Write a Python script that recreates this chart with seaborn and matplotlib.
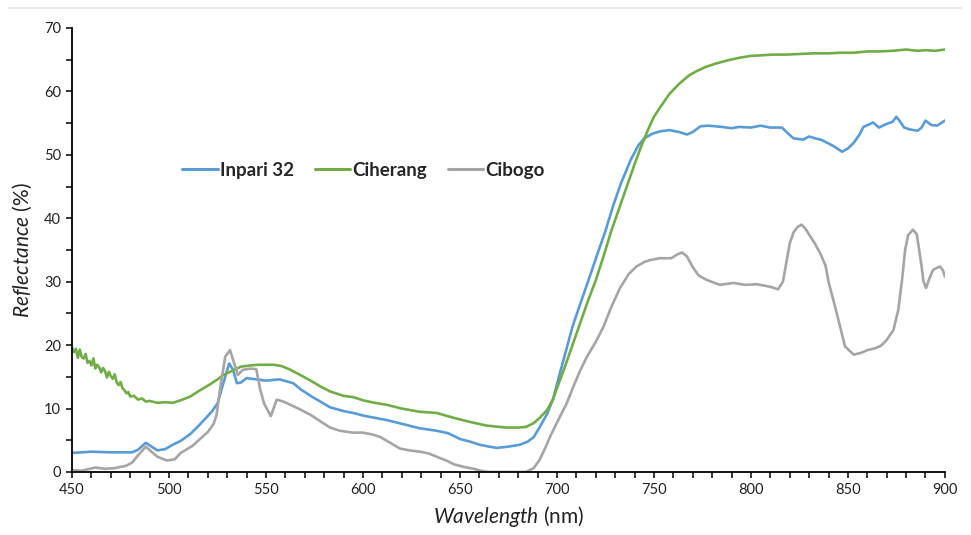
import numpy as np
import pandas as pd
import matplotlib
matplotlib.use("Agg")
import matplotlib.pyplot as plt
from matplotlib.lines import Line2D
from matplotlib.ticker import MultipleLocator
import seaborn as sns

# Inpari 32 spectrum
inpari_wl = [450, 460, 470, 481, 484, 488, 491, 494, 498, 502, 506, 511, 515, 519, 522, 525, 528, 531,
             533, 535, 537, 540, 545, 550, 557, 564, 568, 573, 578, 583, 590, 595, 600, 605, 612, 620,
             629, 638, 644, 650, 655, 660, 665, 669, 675, 681, 685, 688, 691, 695, 698, 701, 705, 708,
             712, 716, 720, 725, 729, 733, 738, 742, 745, 749, 753, 758, 763, 767, 770, 774, 778, 785,
             790, 794, 800, 805, 810, 816, 819, 822, 827, 830, 833, 836, 840, 843, 847, 850, 853, 856,
             858, 861, 863, 866, 868, 871, 873, 875, 877, 879, 882, 886, 888, 890, 893, 896, 900]
inpari_ref = [3.0, 3.2, 3.1, 3.1, 3.5, 4.6, 4.0, 3.4, 3.6, 4.3, 4.9, 6.0, 7.2, 8.5, 9.5, 10.8, 14.0, 17.1,
              16.1, 14.0, 14.1, 14.8, 14.6, 14.4, 14.6, 14.0, 13.0, 12.0, 11.1, 10.2, 9.6, 9.3, 8.9, 8.6,
              8.2, 7.6, 6.9, 6.5, 6.1, 5.2, 4.8, 4.3, 4.0, 3.8, 4.0, 4.3, 4.8, 5.5, 7.0, 9.2, 11.5, 15.0,
              19.5, 22.9, 26.5, 30.0, 33.6, 38.0, 42.0, 45.5, 49.2, 51.5, 52.6, 53.3, 53.7, 53.9, 53.6,
              53.2, 53.6, 54.5, 54.6, 54.4, 54.2, 54.4, 54.3, 54.6, 54.3, 54.3, 53.4, 52.6, 52.4, 52.9,
              52.6, 52.4, 51.8, 51.3, 50.5, 51.0, 51.9, 53.2, 54.4, 54.8, 55.1, 54.3, 54.6, 55.0, 55.2,
              56.0, 55.2, 54.3, 54.0, 53.8, 54.3, 55.4, 54.7, 54.6, 55.4]

# Ciherang spectrum
ciherang_wl = [450, 451, 452, 453, 454, 455, 456, 457, 458, 459, 460, 461, 462, 463, 464, 465, 466, 467,
               468, 469, 470, 471, 472, 473, 474, 475, 476, 477, 478, 479, 480, 482, 484, 486, 488, 490,
               494, 498, 502, 506, 511, 515, 520, 525, 528, 533, 537, 542, 546, 550, 554, 558, 562, 567,
               573, 578, 583, 590, 595, 600, 606, 612, 620, 629, 638, 646, 655, 664, 674, 680, 684, 688,
               691, 695, 698, 700, 704, 708, 712, 716, 720, 724, 728, 732, 736, 740, 743, 747, 750, 753,
               758, 763, 768, 772, 777, 782, 788, 794, 800, 806, 811, 818, 825, 832, 840, 846, 853, 860,
               866, 873, 880, 886, 890, 895, 900]
ciherang_ref = [19.6, 18.9, 19.4, 18.0, 19.3, 18.1, 17.9, 18.6, 17.2, 17.5, 16.8, 17.9, 16.3, 16.9, 16.5,
                15.7, 16.4, 15.9, 14.9, 15.8, 15.1, 14.7, 15.4, 14.1, 13.7, 14.2, 13.2, 12.9, 12.4, 12.6,
                11.9, 12.0, 11.4, 11.6, 11.1, 11.2, 10.9, 11.0, 10.9, 11.3, 11.9, 12.7, 13.6, 14.6, 15.3,
                16.0, 16.6, 16.8, 16.9, 16.9, 16.9, 16.7, 16.2, 15.4, 14.4, 13.5, 12.7, 12.0, 11.8, 11.3,
                10.9, 10.6, 10.0, 9.5, 9.3, 8.6, 7.9, 7.3, 7.0, 7.0, 7.1, 7.7, 8.5, 9.8, 11.5, 13.2, 16.5,
                20.0, 23.5, 27.0, 30.2, 34.0, 38.0, 41.5, 45.0, 48.5, 51.0, 54.0, 56.0, 57.4, 59.6, 61.2,
                62.5, 63.2, 63.9, 64.4, 64.9, 65.3, 65.6, 65.7, 65.8, 65.8, 65.9, 66.0, 66.0, 66.1, 66.1,
                66.3, 66.3, 66.4, 66.6, 66.4, 66.5, 66.4, 66.6]

# Cibogo spectrum
cibogo_wl = [450, 455, 462, 467, 472, 478, 481, 484, 488, 491, 494, 499, 503, 506, 512, 516, 520, 523,
             524.5, 526.5, 529, 531.5, 533, 535.5, 538, 542, 545, 547, 549, 552.5, 555.5, 559, 562.5, 568,
             573, 578, 583, 588, 595, 600, 605, 609, 614, 619, 624, 629.5, 634, 638, 643, 647, 652, 657,
             662, 665, 684, 688, 691, 694, 696.5, 701.5, 705, 708.5, 712, 715.5, 720, 724, 728, 732.5,
             737, 741, 745, 748, 753, 759, 762, 764.5, 767, 770, 773, 777, 784, 791, 797, 803, 810, 814,
             816.5, 818.5, 820, 822, 824, 826, 828, 830.5, 833, 836, 838.5, 840, 842.5, 846, 848.5, 853,
             857, 860, 864, 867, 870, 873.5, 876, 878, 879.5, 881, 883.5, 885.5, 887, 888, 889, 890.3,
             892, 894, 897.5, 899, 900]
cibogo_ref = [0.3, 0.2, 0.7, 0.5, 0.6, 1.0, 1.5, 2.6, 4.0, 3.2, 2.4, 1.8, 2.0, 3.0, 4.1, 5.2, 6.3, 7.6,
              9.0, 13.5, 18.2, 19.2, 17.7, 15.3, 16.1, 16.3, 16.2, 13.0, 10.8, 8.8, 11.4, 11.1, 10.6, 9.8,
              9.0, 8.0, 7.0, 6.5, 6.2, 6.2, 5.9, 5.5, 4.6, 3.7, 3.4, 3.2, 2.9, 2.4, 1.8, 1.2, 0.8, 0.5,
              0.1, 0.0, 0.0, 0.6, 1.9, 3.8, 5.6, 8.7, 10.8, 13.5, 16.0, 18.2, 20.5, 22.9, 26.0, 29.0,
              31.2, 32.4, 33.1, 33.4, 33.7, 33.7, 34.3, 34.6, 34.0, 32.3, 31.0, 30.3, 29.5, 29.8, 29.5,
              29.6, 29.2, 28.8, 30.0, 33.4, 36.0, 37.8, 38.6, 39.0, 38.4, 37.2, 36.0, 34.3, 32.5, 30.0,
              27.1, 22.9, 19.8, 18.5, 18.8, 19.2, 19.5, 19.9, 20.8, 22.4, 25.6, 30.5, 35.0, 37.3, 38.2,
              37.5, 34.5, 32.4, 30.0, 29.0, 30.5, 31.9, 32.4, 31.8, 30.8]

varieties = ["Inpari 32", "Ciherang", "Cibogo"]
colors = ["#5B9BD5", "#70AD47", "#A5A5A5"]

df = pd.concat([
    pd.DataFrame({"wl": inpari_wl, "ref": inpari_ref, "variety": varieties[0]}),
    pd.DataFrame({"wl": ciherang_wl, "ref": ciherang_ref, "variety": varieties[1]}),
    pd.DataFrame({"wl": cibogo_wl, "ref": cibogo_ref, "variety": varieties[2]}),
], ignore_index=True)

sns.set_style("ticks")
plt.rcParams["font.family"] = ["Lato", "DejaVu Sans"]
plt.rcParams["mathtext.fontset"] = "custom"
plt.rcParams["mathtext.it"] = "Lato:italic"
plt.rcParams["mathtext.rm"] = "Lato"

fig = plt.figure(figsize=(9.71, 5.35), dpi=100)
ax = fig.add_axes([0.0742, 0.1178, 0.8989, 0.8299])

sns.lineplot(data=df, x="wl", y="ref", hue="variety", hue_order=varieties,
             palette=dict(zip(varieties, colors)), estimator=None, sort=True,
             linewidth=1.9, ax=ax)

ax.set_xlim(450, 900)
ax.set_ylim(0, 70)
ax.xaxis.set_major_locator(MultipleLocator(50))
ax.xaxis.set_minor_locator(MultipleLocator(10))
ax.yaxis.set_major_locator(MultipleLocator(10))
ax.yaxis.set_minor_locator(MultipleLocator(5))
ax.tick_params(axis="both", which="both", direction="out", color="black", width=1.1, length=4.5,
               labelsize=10.5, labelcolor="#222222")
sns.despine(ax=ax)
for s in ["left", "bottom"]:
    ax.spines[s].set_color("black")
    ax.spines[s].set_linewidth(1.3)

ax.set_xlabel(r"$\mathit{Wavelength}$ (nm)", fontsize=15, color="#222222", labelpad=5)
ax.set_ylabel(r"$\mathit{Reflectance}$ (%)", fontsize=15, color="#222222", labelpad=7)

leg = ax.legend(loc="center", bbox_to_anchor=(0.334, 0.68), ncol=3, frameon=False,
                handlelength=1.9, handletextpad=0.12, columnspacing=1.1,
                prop={"weight": "bold", "size": 13.5})
for line in leg.get_lines():
    line.set_linewidth(2.2)

# faint rule along the top of the image
fig.add_artist(Line2D([0.008, 0.99], [0.985, 0.985], transform=fig.transFigure,
                      color="#e3e3e3", linewidth=1.2))

fig.savefig("out.png", dpi=100, facecolor="white")
